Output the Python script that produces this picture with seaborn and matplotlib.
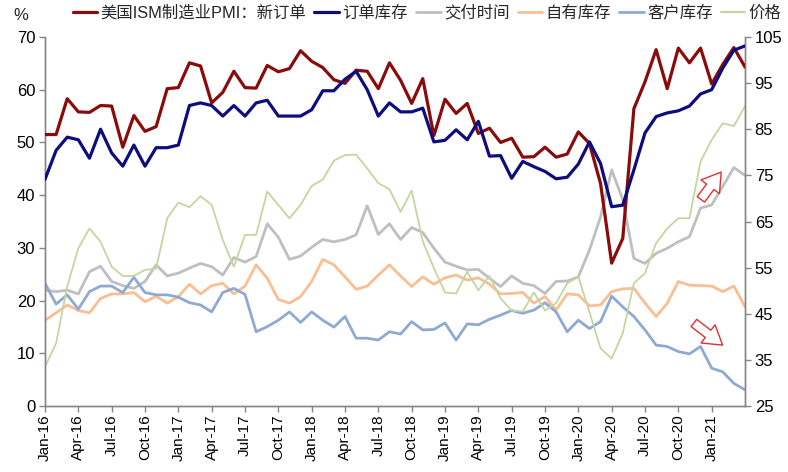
import numpy as np
import pandas as pd
import matplotlib
matplotlib.use("Agg")
import matplotlib.pyplot as plt
from matplotlib.font_manager import FontProperties
from matplotlib.lines import Line2D
import seaborn as sns

# ---------------- data (monthly, Jan-16 .. Apr-21) ----------------
months = pd.date_range("2016-01-01", periods=64, freq="MS").strftime("%b-%y").tolist()

tick_labels = ["Jan-16", "Apr-16", "Jul-16", "Oct-16", "Jan-17", "Apr-17", "Jul-17",
               "Oct-17", "Jan-18", "Apr-18", "Jul-18", "Oct-18", "Jan-19", "Apr-19",
               "Jul-19", "Oct-19", "Jan-20", "Apr-20", "Jul-20", "Oct-20", "Jan-21"]

# left axis
new_orders = [51.5, 51.5, 58.3, 55.8, 55.7, 57.0, 56.9, 49.1, 55.1, 52.1, 53.0, 60.2,
              60.4, 65.1, 64.5, 57.5, 59.5, 63.5, 60.4, 60.3, 64.6, 63.4, 64.0, 67.4,
              65.4, 64.2, 61.9, 61.2, 63.7, 63.5, 60.2, 65.1, 61.8, 57.4, 62.1, 51.3,
              58.2, 55.5, 57.4, 51.7, 52.7, 50.0, 50.8, 47.2, 47.3, 49.1, 47.2, 47.8,
              52.0, 49.8, 42.2, 27.1, 31.8, 56.4, 61.5, 67.6, 60.2, 67.9, 65.1, 67.9,
              61.1, 64.8, 68.0, 64.3]
backlog = [43.0, 48.5, 51.0, 50.5, 47.0, 52.5, 48.0, 45.5, 49.5, 45.5, 49.0, 49.0,
           49.5, 57.0, 57.5, 57.0, 55.0, 57.0, 55.0, 57.5, 58.0, 55.0, 55.0, 55.0,
           56.2, 59.8, 59.8, 62.0, 63.5, 60.0, 55.0, 57.5, 55.8, 55.8, 56.5, 50.1,
           50.4, 52.4, 50.5, 54.0, 47.4, 47.5, 43.2, 46.4, 45.4, 44.5, 43.1, 43.4,
           45.9, 50.1, 46.0, 37.8, 38.1, 44.8, 51.8, 54.9, 55.6, 56.0, 56.9, 59.2,
           60.0, 64.1, 67.5, 68.3]
# right axis
deliveries = [50.1, 49.8, 50.1, 49.3, 54.1, 55.3, 52.0, 51.1, 50.5, 52.0, 55.6, 53.2,
              53.8, 54.9, 55.9, 55.2, 53.4, 57.2, 56.2, 57.4, 64.5, 61.6, 56.8, 57.5,
              59.4, 61.1, 60.6, 61.1, 62.1, 68.4, 62.2, 64.5, 61.1, 63.7, 62.6, 59.2,
              56.2, 55.3, 54.5, 54.6, 52.7, 50.9, 53.2, 51.6, 51.1, 49.4, 52.0, 52.1,
              53.0, 58.8, 66.0, 76.2, 69.7, 57.0, 55.9, 58.1, 59.2, 60.6, 61.7, 67.9,
              68.6, 72.6, 76.7, 75.0]
inventories = [43.6, 45.2, 46.9, 45.7, 45.2, 48.3, 49.3, 49.3, 49.6, 47.6, 48.8, 47.3,
               48.7, 51.4, 49.3, 51.1, 51.6, 49.3, 51.0, 55.6, 52.7, 48.1, 47.3, 48.7,
               52.0, 56.8, 55.6, 53.0, 50.3, 51.0, 53.4, 55.6, 53.2, 50.9, 53.0, 51.4,
               52.8, 53.4, 52.3, 52.8, 51.4, 49.3, 49.4, 49.6, 47.3, 48.7, 45.8, 49.3,
               49.1, 46.7, 46.9, 49.8, 50.4, 50.5, 47.3, 44.4, 47.3, 52.0, 51.2, 51.1,
               51.0, 49.8, 51.0, 46.5]
customer_inv = [51.6, 47.1, 49.1, 46.0, 49.8, 51.0, 51.0, 49.6, 52.9, 49.6, 49.1, 49.1,
                48.6, 47.4, 46.9, 45.4, 49.6, 50.5, 49.2, 41.1, 42.2, 43.6, 45.4, 43.1,
                45.4, 43.6, 42.1, 44.4, 39.7, 39.7, 39.3, 41.1, 40.6, 43.3, 41.5, 41.6,
                43.0, 39.3, 42.8, 42.6, 43.8, 44.7, 45.7, 45.1, 45.8, 47.4, 45.4, 41.1,
                43.6, 41.8, 43.3, 48.8, 46.5, 44.4, 41.5, 38.2, 37.9, 36.8, 36.3, 37.9,
                33.2, 32.4, 29.9, 28.5]
prices = [33.5, 38.6, 50.9, 59.2, 63.5, 60.6, 55.2, 53.2, 53.2, 54.5, 54.8, 65.7,
          69.1, 68.1, 70.5, 68.6, 61.0, 55.2, 62.1, 62.1, 71.5, 68.6, 65.7, 68.6,
          72.7, 74.1, 78.2, 79.4, 79.5, 76.5, 73.3, 72.0, 67.1, 71.7, 60.7, 54.9,
          49.6, 49.4, 54.1, 50.1, 53.2, 48.3, 45.7, 45.5, 49.6, 45.7, 47.3, 51.6,
          53.0, 45.4, 37.5, 35.3, 40.8, 51.6, 53.8, 60.3, 63.5, 65.7, 65.7, 78.0,
          82.7, 86.3, 85.7, 90.0]

labels = ["美国ISM制造业PMI：新订单", "订单库存", "交付时间", "自有库存", "客户库存", "价格"]

# ---------------- style ----------------
sns.set_style("ticks")
FAM = ["Liberation Sans", "Noto Sans CJK SC", "DejaVu Sans"]
plt.rcParams["font.family"] = FAM
plt.rcParams["axes.unicode_minus"] = False

colors = ["#8B0B0B", "#0D0D7E", "#BFBFBF", "#F9BE92", "#8EAAD2", "#C4D6A0"]
widths = [2.3, 2.3, 2.0, 2.0, 2.0, 1.3]

fig = plt.figure(figsize=(7.88, 4.72), dpi=100)
ax = fig.add_axes([45 / 788, 1 - 406 / 472, 700 / 788, 369 / 472])
ax2 = ax.twinx()

x = np.arange(len(months))
df = pd.DataFrame({"idx": x, "month": months,
                   labels[0]: new_orders, labels[1]: backlog,
                   labels[2]: deliveries, labels[3]: inventories,
                   labels[4]: customer_inv, labels[5]: prices})

left_series = labels[:2]
for i, name in enumerate(labels):
    target = ax if name in left_series else ax2
    sns.lineplot(data=df, x="idx", y=name, ax=target, color=colors[i],
                 lw=widths[i], legend=False, zorder=3 if i < 2 else 2)

ax.set_zorder(ax2.get_zorder() + 1)
ax.patch.set_visible(False)

ax.set_xlim(0, len(months) - 1)
ax.set_ylim(0, 70)
ax2.set_ylim(25, 105)
ax.set_yticks(np.arange(0, 71, 10))
ax2.set_yticks(np.arange(25, 106, 10))
ax.set_xticks(x[0:len(tick_labels) * 3:3])
ax.set_xticklabels(tick_labels, rotation=90)
ax.set_xlabel("")
ax.set_ylabel("")
ax2.set_ylabel("")

spine_c = "#868686"
for a in (ax, ax2):
    a.spines["top"].set_visible(False)
    for s in ("left", "right", "bottom"):
        a.spines[s].set_color(spine_c)
        a.spines[s].set_linewidth(1.0)
    a.tick_params(colors=spine_c, labelcolor="black", length=4, width=1.0,
                  labelsize=12)
ax.tick_params(axis="x", labelsize=11, pad=2)
ax.tick_params(axis="y", pad=3)
ax2.tick_params(axis="y", pad=3)

fig.text(13 / 788, 1 - 15 / 472, "%", fontsize=12, va="center", ha="left")

handles = [Line2D([], [], color=c, lw=w if w > 1.5 else 1.6) for c, w in zip(colors, widths)]
fig.legend(handles, labels, ncol=6, loc="center", bbox_to_anchor=(427 / 788, 1 - 13 / 472),
           frameon=False, handlelength=1.5, handletextpad=0.2, columnspacing=0.5,
           borderaxespad=0, prop=FontProperties(family=FAM, size=11.8))

# hollow arrows
arrow_kw = dict(arrowstyle="simple,head_width=0.75,head_length=0.6,tail_width=0.3",
                fc="white", ec="#E03030", lw=1.0, mutation_scale=22,
                shrinkA=0, shrinkB=0)
ax.annotate("", xy=(0.966, 0.634), xytext=(0.937, 0.560), xycoords="axes fraction",
            arrowprops=arrow_kw)
ax.annotate("", xy=(0.968, 0.165), xytext=(0.927, 0.225), xycoords="axes fraction",
            arrowprops=arrow_kw)

fig.savefig("out.png", dpi=100)
